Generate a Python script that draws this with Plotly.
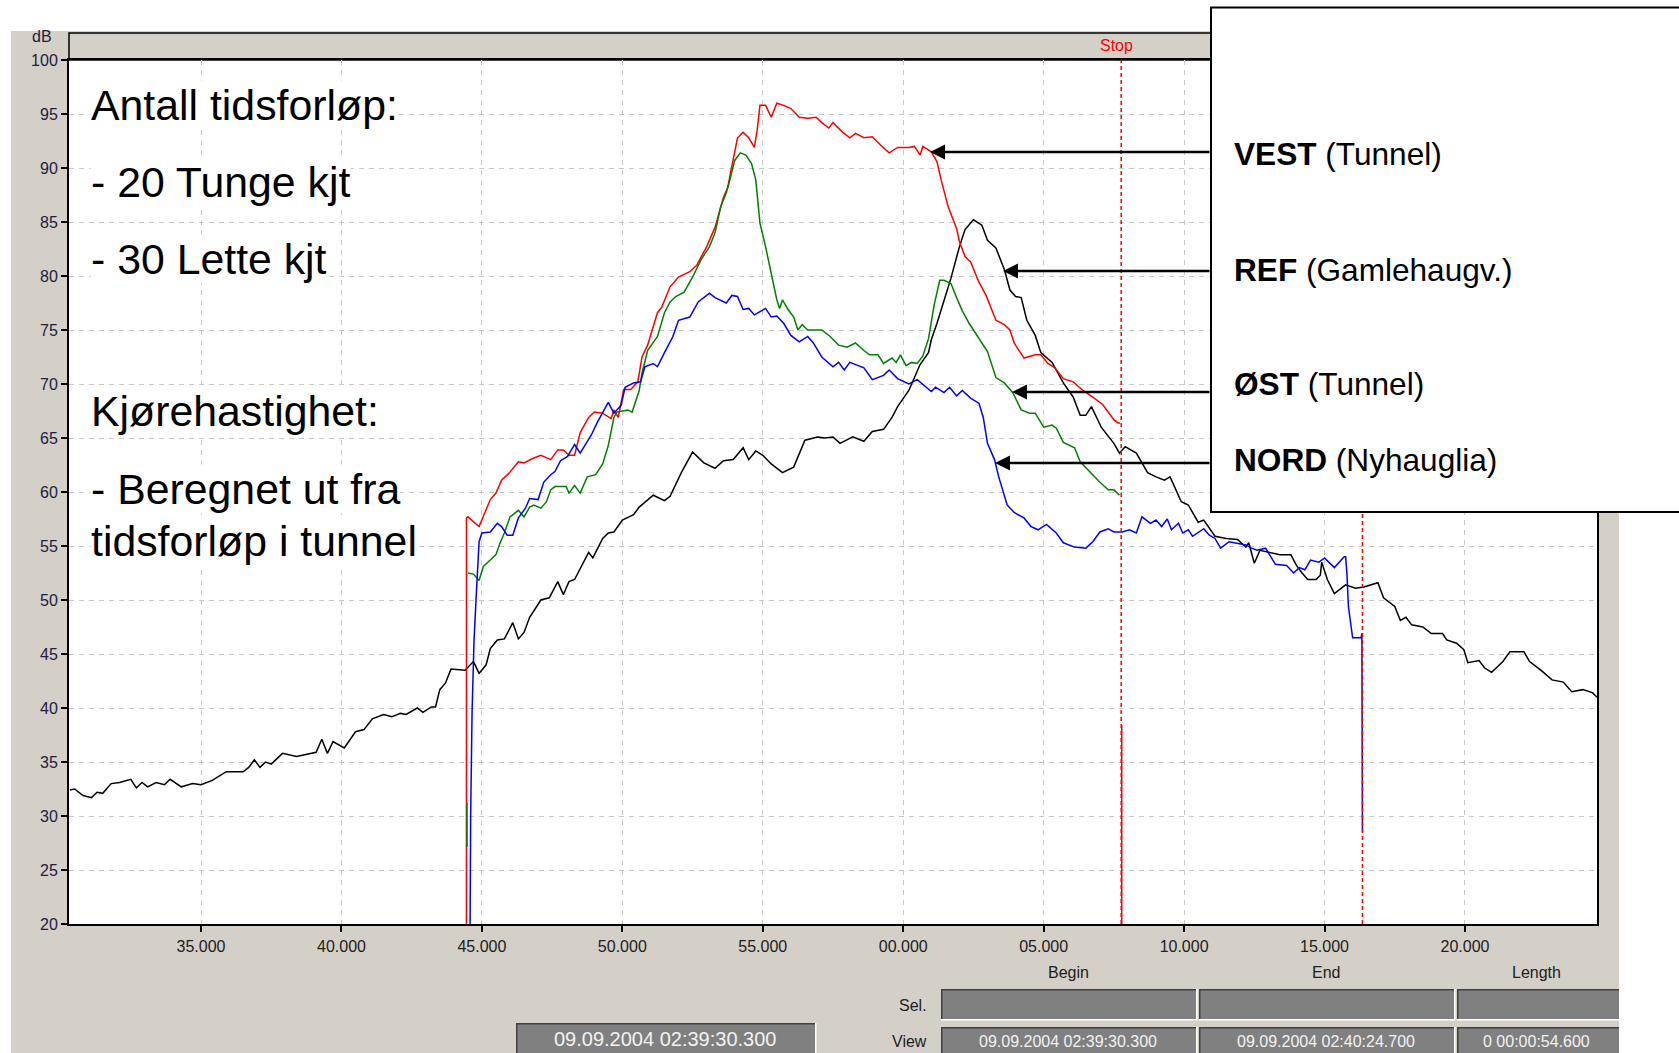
import plotly.graph_objects as go

# ---------------- data (time in s within minute 02:39/02:40, level in dB) ----------------
ref_t = [30.33, 30.5, 30.8, 31.1, 31.3, 31.5, 31.8, 32.1, 32.5, 32.7, 32.9, 33.1, 33.4, 33.7, 33.9,
         34.3, 34.7, 35.0, 35.4, 35.9, 36.5, 36.7, 36.9, 37.1, 37.3, 37.5, 37.9, 38.4, 39.1, 39.3,
         39.5, 39.7, 40.1, 40.5, 40.8, 41.1, 41.5, 41.8, 42.1, 42.3, 42.7, 42.9, 43.2, 43.35, 43.5,
         43.7, 43.9, 44.4, 44.7, 44.9, 45.15, 45.3, 45.55, 45.8, 46.1, 46.3, 46.5, 46.7, 47.1, 47.4,
         47.7, 47.9, 48.1, 48.3, 48.8, 48.95, 49.3, 49.5, 49.7, 50.0, 50.4, 50.6, 51.1, 51.5, 51.7,
         52.1, 52.5, 52.9, 53.3, 53.6, 53.95, 54.3, 54.5, 54.75, 55.0, 55.3, 55.7, 56.1, 56.5, 56.95,
         57.2, 57.5, 57.75, 58.2, 58.6, 58.9, 59.3, 59.6, 59.8, 60.2, 60.4, 60.6, 60.9, 61.0, 61.2,
         61.35, 61.7, 62.0, 62.2, 62.5, 62.8, 63.0, 63.3, 63.6, 63.8, 64.0, 64.2, 64.4, 64.7, 64.9,
         65.3, 65.7, 66.05, 66.3, 66.5, 66.7, 67.05, 67.5, 67.7, 67.9, 68.3, 68.7, 69.0, 69.3, 69.5,
         69.9, 70.15, 70.5, 70.7, 71.1, 71.5, 71.9, 72.2, 72.3, 72.5, 72.7, 73.0, 73.4, 73.8, 74.0,
         74.2, 74.4, 74.7, 74.85, 74.9, 75.1, 75.35, 75.75, 76.1, 76.4, 76.9, 77.1, 77.5, 77.7, 77.9,
         78.1, 78.5, 78.8, 79.2, 79.35, 79.7, 79.96, 80.1, 80.5, 80.7, 80.95, 81.35, 81.6, 82.1, 82.3,
         82.7, 83.1, 83.5, 83.8, 84.2, 84.55, 84.7]
ref_db = [32.4, 32.5, 31.9, 31.7, 32.2, 32.1, 33.0, 33.1, 33.4, 32.6, 33.1, 32.7, 33.1, 32.9, 33.4,
          32.7, 33.0, 32.9, 33.3, 34.1, 34.1, 34.5, 35.2, 34.5, 35.0, 34.8, 35.8, 35.5, 35.9, 37.1,
          35.8, 36.9, 36.3, 37.8, 38.0, 39.0, 39.4, 39.2, 39.5, 39.4, 40.0, 39.6, 40.1, 40.1, 41.7,
          42.3, 43.6, 43.5, 44.3, 43.2, 44.0, 45.5, 46.3, 46.4, 47.9, 46.4, 47.0, 48.4, 50.0, 50.2,
          51.7, 50.5, 51.7, 51.9, 54.4, 53.9, 55.7, 56.2, 56.3, 57.4, 57.9, 58.6, 59.7, 59.2, 59.6,
          61.8, 63.7, 62.7, 62.2, 62.9, 63.0, 64.1, 63.0, 63.8, 63.4, 62.6, 61.8, 62.3, 64.8, 65.1,
          65.0, 65.1, 64.5, 65.1, 64.7, 65.6, 65.8, 66.9, 67.9, 69.4, 70.6, 71.8, 72.9, 74.1, 75.6,
          76.9, 79.8, 82.7, 84.3, 85.2, 84.7, 83.3, 82.6, 80.6, 78.7, 78.1, 78.0, 75.9, 74.5, 72.9,
          72.0, 70.1, 68.8, 67.1, 67.1, 67.9, 66.0, 64.5, 63.6, 64.2, 63.6, 61.8, 61.4, 61.1, 61.4,
          59.1, 58.8, 57.2, 57.4, 55.9, 55.7, 55.6, 54.9, 55.3, 53.4, 54.6, 54.4, 54.2, 54.2, 53.2,
          52.5, 51.9, 51.9, 52.3, 53.5, 51.9, 50.6, 51.4, 51.1, 51.2, 51.6, 50.2, 49.4, 48.1, 48.4,
          47.7, 47.5, 46.9, 46.9, 46.3, 46.0, 45.4, 44.2, 44.4, 43.7, 43.3, 44.3, 45.2, 45.2, 44.3,
          43.5, 42.6, 42.4, 41.5, 41.7, 41.4, 41.0]

vest_t = [44.45, 44.45, 44.5, 44.9, 45.3, 45.5, 45.7, 45.95, 46.3, 46.5, 46.8, 47.1, 47.45, 47.7, 47.9,
          48.1, 48.3, 48.4, 48.5, 48.8, 49.0, 49.3, 49.6, 49.7, 49.85, 50.05, 50.3, 50.55, 50.7, 50.9,
          51.25, 51.4, 51.7, 52.0, 52.4, 52.65, 53.0, 53.3, 53.6, 53.75, 53.95, 54.1, 54.3, 54.5, 54.7,
          54.8, 54.9, 55.1, 55.3, 55.5, 55.75, 56.0, 56.3, 56.6, 56.9, 57.1, 57.35, 57.5, 57.85, 58.1,
          58.3, 58.6, 58.9, 59.2, 59.5, 59.8, 60.2, 60.4, 60.6, 60.7, 61.0, 61.2, 61.35, 61.6, 61.9,
          62.0, 62.2, 62.4, 62.7, 62.95, 63.3, 63.6, 63.8, 63.95, 64.3, 64.7, 64.9, 65.15, 65.4, 65.7,
          66.05, 66.4, 66.8, 67.1, 67.5, 67.65, 67.72, None, 67.78, 67.78]
vest_db = [20.0, 57.6, 57.7, 56.8, 59.3, 59.9, 61.1, 61.7, 62.8, 62.7, 63.1, 63.4, 63.0, 63.9, 63.9,
           63.4, 63.4, 64.6, 65.5, 66.9, 67.4, 67.3, 66.8, 67.6, 66.9, 69.5, 69.5, 70.2, 72.5, 73.6,
           76.6, 77.1, 79.0, 79.9, 80.4, 81.0, 82.7, 84.5, 87.3, 88.2, 90.7, 92.8, 93.3, 92.8, 91.9,
           93.5, 95.8, 95.8, 94.7, 96.0, 95.8, 95.5, 94.7, 94.6, 94.7, 94.2, 93.7, 94.2, 93.3, 92.8,
           93.2, 92.8, 92.9, 92.1, 91.4, 91.9, 91.9, 92.0, 91.2, 92.0, 91.5, 90.6, 88.9, 86.4, 84.4,
           83.2, 81.8, 81.3, 79.4, 78.2, 75.9, 75.5, 75.0, 73.8, 72.4, 72.7, 72.7, 71.9, 71.5, 70.5,
           70.2, 69.4, 68.7, 68.1, 66.7, 66.4, 66.4, None, 38.4, 20.0]

ost_t = [44.47, 44.47, None, 44.5, 44.7, 44.9, 45.05, 45.3, 45.5, 45.65, 45.8, 46.0, 46.2, 46.3, 46.5,
         46.7, 46.85, 47.1, 47.3, 47.45, 47.6, 48.0, 48.1, 48.3, 48.5, 48.75, 49.05, 49.3, 49.5, 49.7,
         49.8, 50.2, 50.35, 50.6, 50.7, 50.9, 51.25, 51.5, 51.7, 51.9, 52.2, 52.5, 52.8, 53.1, 53.3,
         53.5, 53.7, 53.8, 54.0, 54.2, 54.4, 54.6, 54.75, 54.9, 55.1, 55.3, 55.5, 55.6, 55.7, 55.9,
         56.1, 56.25, 56.4, 56.6, 57.1, 57.4, 57.7, 58.0, 58.3, 58.6, 58.8, 59.1, 59.3, 59.6, 59.75,
         59.9, 60.1, 60.3, 60.5, 60.7, 60.9, 61.1, 61.3, 61.45, 61.7, 61.9, 62.1, 62.35, 62.65, 63.0,
         63.3, 63.6, 63.9, 64.2, 64.5, 64.7, 65.0, 65.3, 65.45, 65.7, 66.1, 66.3, 66.6, 67.0, 67.3,
         67.5, 67.7]
ost_db = [27.1, 31.2, None, 52.5, 52.4, 51.8, 53.1, 53.7, 54.2, 55.3, 56.2, 57.7, 58.1, 58.3, 57.7,
          58.6, 58.8, 58.5, 59.1, 60.2, 60.5, 60.5, 59.9, 60.6, 59.9, 61.4, 61.6, 62.6, 64.3, 66.9,
          67.4, 67.6, 67.4, 69.4, 71.0, 73.1, 74.4, 76.6, 77.6, 78.1, 78.5, 79.9, 81.5, 82.7, 84.0,
          86.4, 87.7, 88.6, 90.7, 91.4, 91.2, 90.4, 88.9, 84.9, 82.7, 80.3, 77.8, 77.0, 77.8, 76.9,
          76.2, 75.0, 75.5, 75.0, 75.0, 74.4, 73.6, 73.4, 73.8, 73.1, 72.7, 72.7, 71.9, 72.4, 72.0,
          72.7, 71.7, 72.0, 71.9, 72.6, 74.2, 77.3, 79.6, 79.6, 79.3, 78.0, 76.8, 75.6, 74.4, 73.0,
          70.6, 70.1, 69.2, 67.6, 67.3, 67.3, 66.0, 66.2, 65.9, 64.6, 64.1, 62.8, 62.0, 60.9, 60.2,
          60.2, 59.7]

nord_t = [44.58, 44.6, 44.65, 44.72, 44.8, 44.9, 45.0, 45.3, 45.55, 45.7, 45.9, 46.1, 46.3, 46.55, 46.7,
          47.0, 47.2, 47.45, 47.6, 47.8, 48.05, 48.3, 48.5, 48.9, 49.1, 49.5, 49.7, 49.95, 50.1, 50.4,
          50.65, 50.8, 51.1, 51.25, 51.5, 51.8, 52.0, 52.4, 52.7, 53.1, 53.3, 53.7, 53.9, 54.1, 54.3,
          54.5, 54.7, 55.1, 55.3, 55.5, 55.75, 56.0, 56.3, 56.6, 56.8, 57.1, 57.5, 57.7, 57.9, 58.1,
          58.6, 58.9, 59.3, 59.5, 59.8, 60.2, 60.5, 61.0, 61.15, 61.45, 61.65, 61.9, 62.1, 62.4, 62.7,
          62.85, 63.0, 63.25, 63.4, 63.7, 63.95, 64.3, 64.55, 64.8, 65.1, 65.45, 65.7, 66.1, 66.5, 66.75,
          67.0, 67.3, 67.5, 67.8, 68.05, 68.3, 68.5, 68.8, 69.0, 69.2, 69.4, 69.55, 69.8, 69.95, 70.15,
          70.3, 70.7, 70.9, 71.1, 71.3, 71.6, 71.95, 72.2, 72.4, 72.6, 72.9, 73.25, 73.65, 73.9, 74.1,
          74.3, 74.5, 74.8, 75.0, 75.35, 75.7, 75.75, 75.8, 75.85, 76.0, 76.3, 76.33, 76.35]
nord_db = [20.0, 29.9, 39.6, 46.3, 50.5, 55.4, 56.2, 56.3, 57.1, 56.8, 56.0, 56.0, 57.6, 58.5, 59.4,
           59.3, 60.9, 61.6, 61.9, 62.9, 63.3, 64.4, 63.6, 65.3, 66.4, 68.3, 67.3, 68.0, 69.7, 70.1,
           70.2, 71.6, 71.9, 71.6, 72.9, 74.4, 75.9, 76.2, 77.6, 78.4, 78.0, 77.5, 78.2, 78.1, 76.9,
           77.0, 76.4, 77.0, 76.2, 76.3, 75.6, 74.5, 73.9, 74.4, 73.8, 72.5, 71.6, 72.0, 71.3, 72.0,
           71.5, 70.4, 70.8, 71.3, 70.5, 70.0, 70.4, 69.3, 69.7, 69.2, 69.7, 68.9, 69.4, 68.7, 68.2,
           66.9, 64.5, 63.0, 61.4, 58.8, 58.1, 57.6, 56.8, 56.5, 57.0, 56.2, 55.3, 54.9, 54.8, 55.4,
           56.3, 56.6, 56.3, 56.3, 56.5, 56.2, 57.7, 57.1, 57.4, 56.8, 57.5, 56.5, 57.1, 56.2, 56.5,
           55.9, 56.6, 56.0, 55.7, 54.8, 55.4, 55.2, 55.1, 54.8, 54.6, 54.8, 53.3, 53.2, 52.5, 53.0,
           52.8, 53.7, 53.5, 53.9, 53.0, 54.0, 54.0, 52.3, 49.4, 46.5, 46.5, 46.9, 28.5]

cursor_t = [67.76, 76.35]
cursor_labels = ["Stop", ""]

x_tick_vals = [35, 40, 45, 50, 55, 60, 65, 70, 75, 80]
x_tick_text = ["35.000", "40.000", "45.000", "50.000", "55.000", "00.000", "05.000", "10.000", "15.000", "20.000"]
y_tick_vals = [20, 25, 30, 35, 40, 45, 50, 55, 60, 65, 70, 75, 80, 85, 90, 95, 100]
x_range = [30.3, 84.7]
y_range = [20, 100]

info_lines = ["Antall tidsforløp:", "- 20 Tunge kjt", "- 30 Lette kjt",
              "Kjørehastighet:", "- Beregnet ut fra", "tidsforløp i tunnel"]
legend_names = ["VEST", "REF", "ØST", "NORD"]
legend_places = ["Tunnel", "Gamlehaugv.", "Tunnel", "Nyhauglia"]
view_begin = "09.09.2004 02:39:30.300"
view_end = "09.09.2004 02:40:24.700"
view_length = "0 00:00:54.600"

# ---------------- layout geometry (pixels) ----------------
W, H = 1679, 1053
L, R, T, B = 69, 1597, 60, 924
GREY = "#D4D0C8"
FONT = "Liberation Sans, Arial, sans-serif"


def px(xp):
    return (xp - L) / (R - L)


def py(yp):
    return (B - yp) / (B - T)


fig = go.Figure()

series = [(ref_t, ref_db, "#000000"), (vest_t, vest_db, "#FF0000"),
          (ost_t, ost_db, "#008000"), (nord_t, nord_db, "#0000FF")]
for t, d, c in series:
    fig.add_trace(go.Scatter(x=t, y=d, mode="lines", line=dict(color=c, width=1.5),
                             connectgaps=False, hoverinfo="skip", showlegend=False))

for ct in cursor_t:
    fig.add_trace(go.Scatter(x=[ct, ct], y=y_range, mode="lines",
                             line=dict(color="#FF0000", width=1.5, dash="4px,3px"),
                             hoverinfo="skip", showlegend=False))

shapes = []
# grey application panel
shapes.append(dict(type="rect", xref="paper", yref="paper", x0=px(11), x1=px(1619), y0=py(31), y1=py(1060),
                   fillcolor=GREY, line=dict(width=0), layer="below"))
# white plotting area
shapes.append(dict(type="rect", xref="paper", yref="paper", x0=px(L), x1=px(R), y0=py(T), y1=py(B),
                   fillcolor="white", line=dict(width=0), layer="below"))
# header strip above the plot
shapes.append(dict(type="rect", xref="paper", yref="paper", x0=px(L), x1=px(1700), y0=py(33), y1=py(T),
                   fillcolor=GREY, line=dict(color="black", width=1.5), layer="below"))


def bevel_box(x0, x1, y0, y1):
    shapes.append(dict(type="rect", xref="paper", yref="paper", x0=px(x0), x1=px(x1 + 1.5),
                       y0=py(y0), y1=py(y1 + 1.5), fillcolor="white", line=dict(width=0), layer="below"))
    shapes.append(dict(type="rect", xref="paper", yref="paper", x0=px(x0), x1=px(x1),
                       y0=py(y0), y1=py(y1), fillcolor="#404040", line=dict(width=0), layer="below"))
    shapes.append(dict(type="rect", xref="paper", yref="paper", x0=px(x0 + 1.5), x1=px(x1),
                       y0=py(y0 + 1.5), y1=py(y1), fillcolor="#808080", line=dict(width=0), layer="below"))


cols = [(941, 1196), (1199, 1454), (1457, 1619)]
for x0, x1 in cols:
    bevel_box(x0, x1, 989, 1019)
    bevel_box(x0, x1, 1027, 1060)
bevel_box(516, 815, 1023, 1060)

# legend box (drawn over the plot)
shapes.append(dict(type="rect", xref="paper", yref="paper", x0=px(1211), x1=px(1700), y0=py(7.5), y1=py(512),
                   fillcolor="white", line=dict(color="black", width=2), layer="above"))

annotations = []
info_y = [105, 182, 259, 411, 489, 541]
for txt, yc in zip(info_lines, info_y):
    annotations.append(dict(text=txt, xref="paper", yref="paper", x=px(90), y=py(yc),
                            xanchor="left", yanchor="middle", showarrow=False, bgcolor="white",
                            borderpad=0, font=dict(family=FONT, size=42.8, color="black")))

leg_y = [154, 270, 384, 460]
for name, place, yc in zip(legend_names, legend_places, leg_y):
    annotations.append(dict(text=f"<b>{name}</b> ({place})", xref="paper", yref="paper", x=px(1232), y=py(yc),
                            xanchor="left", yanchor="middle", showarrow=False,
                            font=dict(family=FONT, size=31.6, color="black")))

arrow_tips = [(930, 152), (1003, 271), (1012, 392), (995, 463)]
for tx, ty in arrow_tips:
    annotations.append(dict(text="", xref="paper", yref="paper", x=px(tx), y=py(ty),
                            ax=1211 - tx, ay=0, axref="pixel", ayref="pixel", showarrow=True,
                            arrowhead=2, arrowsize=1.2, arrowwidth=2.5, arrowcolor="black", standoff=0))

annotations.append(dict(text="dB", xref="paper", yref="paper", x=px(42), y=py(37), xanchor="center",
                        yanchor="middle", showarrow=False, font=dict(family=FONT, size=16, color="#202040")))
for ct, lab in zip(cursor_t, cursor_labels):
    if lab:
        annotations.append(dict(text=lab, xref="x", yref="paper", x=ct, y=py(46), xanchor="center",
                                yanchor="middle", xshift=-5, showarrow=False,
                                font=dict(family=FONT, size=16, color="#FF0000")))
for lab, xc in [("Begin", 1068), ("End", 1326), ("Length", 1536)]:
    annotations.append(dict(text=lab, xref="paper", yref="paper", x=px(xc), y=py(972), xanchor="center",
                            yanchor="middle", showarrow=False, font=dict(family=FONT, size=16, color="#202020")))
for lab, yc in [("Sel.", 1005), ("View", 1041)]:
    annotations.append(dict(text=lab, xref="paper", yref="paper", x=px(929), y=py(yc), xanchor="right",
                            yanchor="middle", showarrow=False, font=dict(family=FONT, size=16, color="#202020")))
for txt, xc in [(view_begin, 1068), (view_end, 1326), (view_length, 1536)]:
    annotations.append(dict(text=txt, xref="paper", yref="paper", x=px(xc), y=py(1041), xanchor="center",
                            yanchor="middle", showarrow=False, font=dict(family=FONT, size=16, color="#F2F2F2")))
annotations.append(dict(text=view_begin, xref="paper", yref="paper", x=px(665), y=py(1039), xanchor="center",
                        yanchor="middle", showarrow=False, font=dict(family=FONT, size=20, color="#F2F2F2")))

axis_common = dict(showgrid=True, gridcolor="#C8C8C8", gridwidth=1, griddash="5px,5px",
                   showline=True, linecolor="black", linewidth=2, mirror=True,
                   ticks="outside", ticklen=6, tickwidth=1.5, tickcolor="black",
                   zeroline=False, automargin=False, fixedrange=True)

fig.update_layout(
    width=W, height=H,
    margin=dict(l=L, r=W - R, t=T, b=H - B, pad=0, autoexpand=False),
    paper_bgcolor="white", plot_bgcolor="white", showlegend=False,
    xaxis=dict(range=x_range, tickmode="array", tickvals=x_tick_vals, ticktext=x_tick_text,
               tickfont=dict(family=FONT, size=16, color="#202020"), ticklabelstandoff=1, **axis_common),
    yaxis=dict(range=y_range, tickmode="array", tickvals=y_tick_vals,
               tickfont=dict(family=FONT, size=16, color="#202040"), **axis_common),
    shapes=shapes, annotations=annotations,
)

fig.write_html("out.html", config={"displayModeBar": False},
               post_script="document.body.style.margin='0';document.body.style.overflow='hidden';")
